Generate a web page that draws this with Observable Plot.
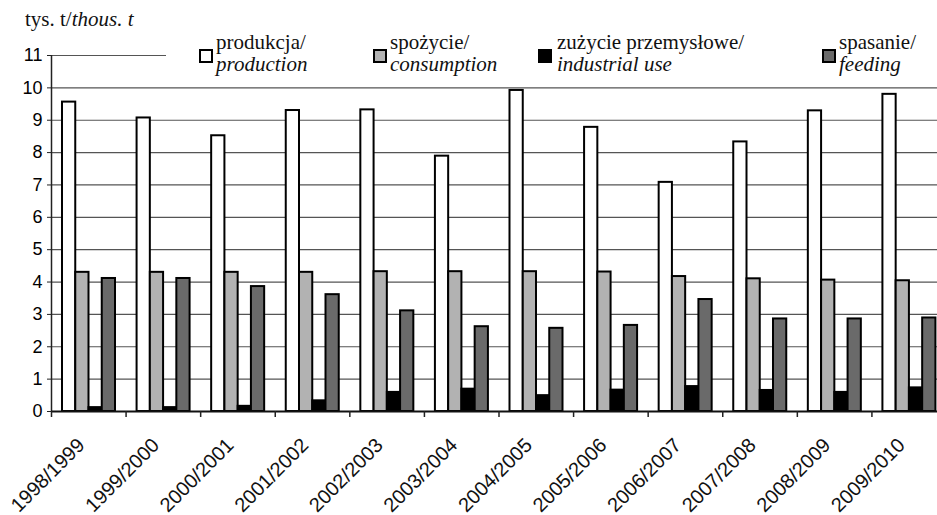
<!DOCTYPE html>
<html>
<head>
<meta charset="utf-8">
<script src="https://cdn.jsdelivr.net/npm/d3@7"></script>
<script src="https://cdn.jsdelivr.net/npm/@observablehq/plot@0.6"></script>
<style>
  html, body { margin: 0; padding: 0; background: #fff; overflow: hidden; }
  #wrap { position: relative; width: 946px; height: 515px; }
  #ylab { position: absolute; left: 25px; top: 7px; font-family: serif; font-size: 21px; line-height: 24px; color: #111; white-space: nowrap; }
  #legend { position: absolute; left: 166px; top: 28px; width: 780px; height: 52px; background: #fff; }
  .item { position: absolute; top: 3px; font-family: serif; font-size: 21px; line-height: 22px; color: #111; white-space: nowrap; }
  .sw { position: absolute; left: 0; top: 18px; width: 10px; height: 10px; border: 2px solid #000; }
  .txt { position: absolute; top: 0; }
</style>
</head>
<body>
<div id="wrap">
  <div id="chart"></div>
  <div id="ylab"></div>
  <div id="legend"></div>
</div>
<script>
const categories = ["1998/1999","1999/2000","2000/2001","2001/2002","2002/2003","2003/2004","2004/2005","2005/2006","2006/2007","2007/2008","2008/2009","2009/2010"];
const production  = [9.56, 9.07, 8.52, 9.30, 9.32, 7.89, 9.92, 8.78, 7.08, 8.33, 9.29, 9.80];
const consumption = [4.30, 4.30, 4.30, 4.30, 4.32, 4.32, 4.32, 4.31, 4.17, 4.10, 4.06, 4.04];
const industrial  = [0.12, 0.12, 0.16, 0.33, 0.59, 0.69, 0.49, 0.66, 0.77, 0.65, 0.59, 0.73];
const feeding     = [4.11, 4.11, 3.86, 3.61, 3.11, 2.62, 2.57, 2.66, 3.46, 2.86, 2.86, 2.89];
const seriesNames = ["produkcja/", "spożycie/", "zużycie przemysłowe/", "spasanie/"];
const seriesNamesEn = ["production", "consumption", "industrial use", "feeding"];
const seriesColors = ["#ffffff", "#b2b2b2", "#000000", "#6a6a6a"];
const yTicks = [0,1,2,3,4,5,6,7,8,9,10,11];
const unitLabel = ["tys. t/", "thous. t"];

const seriesValues = [production, consumption, industrial, feeding];

const W = 946, H = 515, mL = 51, mT = 55, mB = 104;
const step = (W - mL) / categories.length;
const barStart = 11, barW = 13.25;
const innerH = H - mT - mB;
const axisFont = "Liberation Sans, Arial, sans-serif";

const barMarks = seriesValues.map((vals, i) => {
  const rows = categories.map((c, j) => ({cat: c, value: vals[j]}));
  return Plot.barY(rows, {
    x: "cat", y: "value",
    fill: seriesColors[i], stroke: "#000", strokeWidth: 2,
    insetLeft: barStart + barW * i,
    insetRight: step - (barStart + barW * (i + 1))
  });
});

const chart = Plot.plot({
  width: W, height: H,
  marginLeft: mL, marginRight: 0, marginTop: mT, marginBottom: mB,
  style: {background: "transparent"},
  x: {domain: categories, padding: 0, round: false, axis: null},
  y: {domain: [0, 11], axis: null},
  marks: [
    Plot.ruleY(yTicks.slice(1), {stroke: "#555", strokeWidth: 1.2}),
    Plot.axisY({ticks: yTicks, tickSize: 4, tickPadding: 5, fontSize: 18, fontFamily: axisFont, label: null, tickFormat: d => d, stroke: "#222"}),
    ...barMarks,
    Plot.ruleX([categories[0]], {x: d => d, dx: -step / 2, stroke: "#222", strokeWidth: 1.5}),
    Plot.ruleY([0], {stroke: "#111", strokeWidth: 2}),
    Plot.ruleX(categories, {x: d => d, dx: -step / 2, insetTop: innerH, insetBottom: -6, stroke: "#222", strokeWidth: 1.5}),
    Plot.text(categories, {x: d => d, text: d => d, frameAnchor: "bottom", dy: 35, dx: -3, rotate: -45, textAnchor: "end", fontSize: 20, fontFamily: axisFont, fill: "#111"})
  ]
});
document.getElementById("chart").appendChild(chart);

const ylab = document.getElementById("ylab");
ylab.appendChild(document.createTextNode(unitLabel[0]));
const yi = document.createElement("i");
yi.textContent = unitLabel[1];
ylab.appendChild(yi);

const legend = document.getElementById("legend");
const legendX = [33, 207, 372, 656];
seriesNames.forEach((name, i) => {
  const it = document.createElement("div");
  it.className = "item";
  it.style.left = legendX[i] + "px";
  const sw = document.createElement("div");
  sw.className = "sw";
  sw.style.background = seriesColors[i];
  const tx = document.createElement("div");
  tx.className = "txt";
  tx.style.left = (i === 2 ? 19 : 17) + "px";
  const l1 = document.createElement("div");
  l1.textContent = name;
  const l2 = document.createElement("i");
  l2.textContent = seriesNamesEn[i];
  tx.appendChild(l1);
  tx.appendChild(l2);
  it.appendChild(sw);
  it.appendChild(tx);
  legend.appendChild(it);
});
</script>
</body>
</html>
